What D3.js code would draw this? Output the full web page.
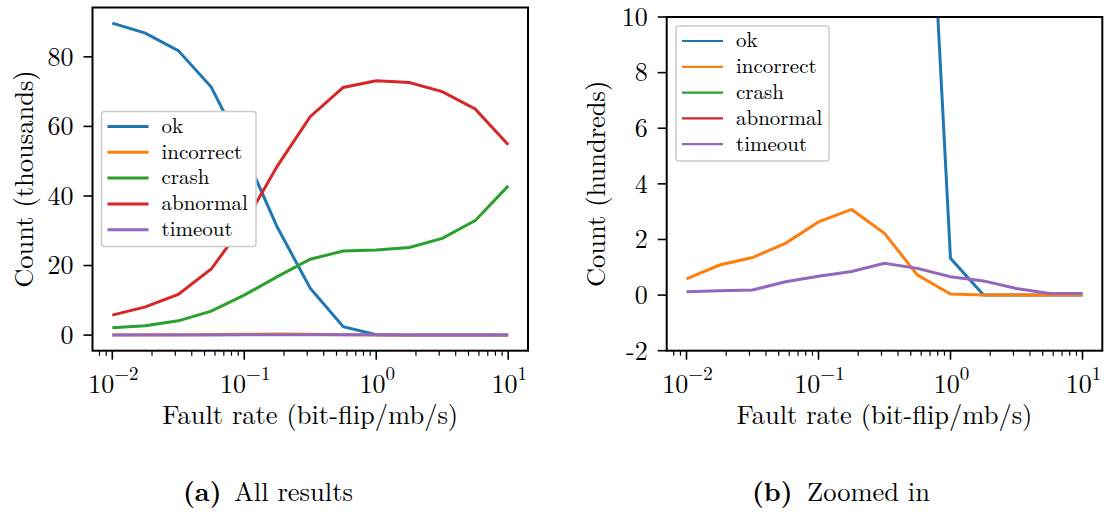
<!DOCTYPE html>
<html>
<head>
<meta charset="utf-8">
<script src="https://cdn.jsdelivr.net/npm/d3@7"></script>
<style>
  body { margin: 0; background: #fff; }
</style>
</head>
<body>
<svg id="fig" width="1107" height="513"></svg>
<script>
// fault rates (bit-flip/mb/s)
var rates = [0.01, 0.0178, 0.0316, 0.0562, 0.1, 0.178, 0.316, 0.562, 1, 1.78, 3.16, 5.62, 10];

// raw counts per outcome
var okCounts        = [89700, 86800, 81800, 71300, 52500, 31000, 13500, 2400, 132, 0, 0, 0, 0];
var incorrectCounts = [58, 108, 135, 186, 263, 308, 222, 72, 4, 0, 0, 0, 0];
var crashCounts     = [2100, 2700, 4100, 6900, 11500, 16800, 21800, 24200, 24500, 25200, 27800, 32900, 42900];
var abnormalCounts  = [5750, 8100, 11700, 19000, 32000, 48600, 62800, 71200, 73100, 72600, 70000, 65000, 54700];
var timeoutCounts   = [12, 16, 18, 48, 68, 85, 114, 96, 66, 51, 24, 6, 6];

var seriesNames  = ["ok", "incorrect", "crash", "abnormal", "timeout"];
var seriesColors = ["#1f77b4", "#ff7f0e", "#2ca02c", "#d62728", "#9467bd"];
var seriesValues = [okCounts, incorrectCounts, crashCounts, abnormalCounts, timeoutCounts];

var leftTicks  = [0, 20, 40, 60, 80];
var rightTicks = [-2, 0, 2, 4, 6, 8, 10];
var zoomRange  = [-2, 10];

var svg = d3.select("#fig");
var FONT = "Latin Modern Roman";

var drawPanel = function(opts) {
    let g = svg.append("g"),
        unit = opts.unit;

    // x: log scale with 5% margin in log space
    let lx = [Math.log10(d3.min(rates)), Math.log10(d3.max(rates))],
        pad = (lx[1] - lx[0]) * 0.05,
        x = d3.scaleLog()
            .domain([Math.pow(10, lx[0] - pad), Math.pow(10, lx[1] + pad)])
            .range([opts.x0, opts.x1]);

    let yDomain = opts.yDomain;
    if (!yDomain) {
        let all = d3.merge(seriesValues).map((v) => v / unit),
            lo = d3.min(all), hi = d3.max(all), m = (hi - lo) * 0.05;
        yDomain = [lo - m, hi + m];
    }
    let y = d3.scaleLinear().domain(yDomain).range([opts.y1, opts.y0]);

    let clipId = "clip-" + opts.id;
    g.append("clipPath").attr("id", clipId)
        .append("rect")
        .attr("x", opts.x0).attr("y", opts.y0)
        .attr("width", opts.x1 - opts.x0).attr("height", opts.y1 - opts.y0);

    let line = d3.line()
        .x((d) => x(d[0]))
        .y((d) => y(d[1] / unit));

    let lines = g.append("g").attr("clip-path", `url(#${clipId})`);
    seriesValues.forEach((vals, i) => {
        lines.append("path")
            .attr("d", line(rates.map((r, j) => [r, vals[j]])))
            .attr("fill", "none")
            .attr("stroke", seriesColors[i])
            .attr("stroke-width", 3);
    });

    // spines
    g.append("rect")
        .attr("x", opts.x0).attr("y", opts.y0)
        .attr("width", opts.x1 - opts.x0).attr("height", opts.y1 - opts.y0)
        .attr("fill", "none").attr("stroke", "#000").attr("stroke-width", 2);

    // x ticks (major + minor from the log scale)
    let allTicks = x.ticks().filter((t) => t >= x.domain()[0] && t <= x.domain()[1]);
    allTicks.forEach((t) => {
        let e = Math.log10(t),
            major = Math.abs(e - Math.round(e)) < 1e-9;
        g.append("line")
            .attr("x1", x(t)).attr("x2", x(t))
            .attr("y1", opts.y1).attr("y2", opts.y1 + (major ? 9 : 5))
            .attr("stroke", "#000").attr("stroke-width", major ? 1.6 : 1.2);
        if (major) {
            let txt = g.append("text")
                .attr("font-family", FONT)
                .attr("x", x(t) + 1).attr("y", opts.y1 + 42)
                .attr("text-anchor", "middle")
                .attr("font-size", 26);
            txt.append("tspan").text("10");
            txt.append("tspan")
                .attr("font-size", 19)
                .attr("dy", -13)
                .text(String(Math.round(e)).replace("-", "\u2212"));
        }
    });

    // y ticks
    opts.yTicks.forEach((t) => {
        g.append("line")
            .attr("x1", opts.x0 - 9).attr("x2", opts.x0)
            .attr("y1", y(t)).attr("y2", y(t))
            .attr("stroke", "#000").attr("stroke-width", 1.6);
        g.append("text")
            .attr("font-family", FONT)
            .attr("x", opts.x0 - 19).attr("y", y(t))
            .attr("dy", "0.34em")
            .attr("text-anchor", "end")
            .attr("font-size", 26)
            .text(String(t));
    });

    // axis labels
    g.append("text")
        .attr("font-family", FONT)
        .attr("x", (opts.x0 + opts.x1) / 2).attr("y", 424)
        .attr("text-anchor", "middle")
        .attr("font-size", 26.5)
        .text("Fault rate (bit-flip/mb/s)");
    g.append("text")
        .attr("font-family", FONT)
        .attr("transform", `translate(${opts.labelX}, ${(opts.y0 + opts.y1) / 2}) rotate(-90)`)
        .attr("text-anchor", "middle")
        .attr("font-size", 26.5)
        .text(opts.yLabel);

    // legend
    let lg = g.append("g");
    lg.append("rect")
        .attr("x", opts.legend.x).attr("y", opts.legend.y)
        .attr("width", opts.legend.w).attr("height", opts.legend.h)
        .attr("rx", 3)
        .attr("fill", "#fff")
        .attr("stroke", "#cccccc").attr("stroke-width", 1.5);
    seriesNames.forEach((name, i) => {
        let cy = opts.legend.y + 15 + i * 25.8;
        lg.append("line")
            .attr("x1", opts.legend.x + 6).attr("x2", opts.legend.x + 47)
            .attr("y1", cy).attr("y2", cy)
            .attr("stroke", seriesColors[i])
            .attr("stroke-width", opts.legend.lw);
        lg.append("text")
            .attr("font-family", FONT)
            .attr("x", opts.legend.x + 60).attr("y", cy)
            .attr("dy", "0.3em")
            .attr("font-size", 21)
            .text(name);
    });

    // caption
    let cap = svg.append("text")
        .attr("font-family", FONT)
        .attr("y", 501)
        .attr("font-size", 26.5);
    cap.append("tspan").attr("x", opts.capX).attr("font-weight", "bold").text(opts.capTag);
    cap.append("tspan").attr("x", opts.capTextX).text(opts.capText);
};

drawPanel({
    id: "a", unit: 1000,
    x0: 92.5, x1: 528, y0: 7.5, y1: 350.7,
    yTicks: leftTicks, yLabel: "Count (thousands)", labelX: 33,
    legend: {x: 101.5, y: 111.5, w: 154.5, h: 135, lw: 3},
    capX: 183, capTextX: 234, capTag: "(a)", capText: "All results"
});

drawPanel({
    id: "b", unit: 100,
    x0: 666.7, x1: 1102.3, y0: 17, y1: 350.7,
    yDomain: zoomRange,
    yTicks: rightTicks, yLabel: "Count (hundreds)", labelX: 605,
    legend: {x: 676, y: 26, w: 153, h: 135, lw: 2.2},
    capX: 752, capTextX: 807, capTag: "(b)", capText: "Zoomed in"
});
</script>
</body>
</html>
